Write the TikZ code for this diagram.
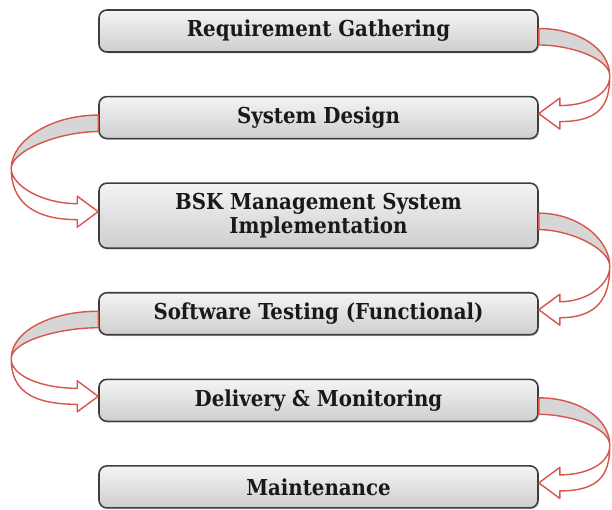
\documentclass[tikz,border=0pt]{standalone}
\usepackage{fontspec}
\setmainfont{DejaVu Serif Condensed}
\usetikzlibrary{positioning, calc, shadows}

\definecolor{loopred}{RGB}{214,86,76}
\definecolor{bandgray}{RGB}{214,214,214}
\definecolor{boxtop}{RGB}{244,244,244}
\definecolor{boxbottom}{RGB}{206,206,206}
\definecolor{boxline}{RGB}{62,62,62}

\tikzset{
  stage/.style={draw=boxline, line width=0.9pt, rounded corners=4.5pt,
    top color=boxtop, bottom color=boxbottom,
    drop shadow={shadow xshift=0.6pt, shadow yshift=-0.8pt, opacity=0.35},
    minimum width=8.78cm, minimum height=0.84cm, align=center,
    font=\bfseries\fontsize{12.5}{13.5}\selectfont, text=black!90},
  bandback/.style={draw=loopred, fill=bandgray, line width=0.8pt, line join=round},
  bandfront/.style={draw=loopred, fill=white, line width=0.8pt, line join=round}
}

% #1 from, #2 to, #3 anchor, #4 side (1 or -1), #5 bulge
\newcommand{\bentloop}[5]{
  \coordinate (t1) at ($(#1.#3)+(0,0.05)$);
  \coordinate (t2) at ($(#1.#3)+(0,-0.28)$);
  \coordinate (tip) at ($(#2.#3)+(0,0.08)$);
  \coordinate (far) at ($($(t1)!0.5!(tip)$)+(#5,-0.1)$);
  \coordinate (back) at ($(tip)+(#4*0.42,0)$);
  \coordinate (su) at ($(back)+(0,0.16)$);
  \coordinate (bu) at ($(back)+(0,0.31)$);
  \coordinate (sl) at ($(back)+(0,-0.16)$);
  \coordinate (bl) at ($(back)+(0,-0.31)$);
  \filldraw[bandback] (t1) .. controls ($(t1)+(#5*0.55,0)$) and ($(far)+(0,0.55)$) .. (far)
    .. controls ($(far)+(0,0.35)$) and ($(t2)+(#5*0.45,0)$) .. (t2) -- cycle;
  \filldraw[bandfront] (far) .. controls ($(far)+(0,-0.35)$) and ($(su)+(#5*0.4,0)$) .. (su)
    -- (bu) -- (tip) -- (bl) -- (sl)
    .. controls ($(sl)+(#5*0.55,0)$) and ($(far)+(0,-0.6)$) .. (far) -- cycle;
}

\begin{document}
\begin{tikzpicture}
  \useasboundingbox (0,0) rectangle (12.24,-10.2);

  % stages %
  \node[stage] (req) at (6.37,-0.62) {Requirement Gathering};
  \node[stage, below=0.86cm of req] (design) {System Design};
  \node[stage, below=0.86cm of design, minimum height=1.3cm] (impl) {BSK Management System\\Implementation};
  \node[stage, below=0.86cm of impl] (test) {Software Testing (Functional)};
  \node[stage, below=0.86cm of test] (deliv) {Delivery \& Monitoring};
  \node[stage, below=0.86cm of deliv] (maint) {Maintenance};

  % loops %
  \bentloop{req}{design}{east}{1}{1.42}
  \bentloop{design}{impl}{west}{-1}{-1.74}
  \bentloop{impl}{test}{east}{1}{1.42}
  \bentloop{test}{deliv}{west}{-1}{-1.74}
  \bentloop{deliv}{maint}{east}{1}{1.42}
\end{tikzpicture}
\end{document}
